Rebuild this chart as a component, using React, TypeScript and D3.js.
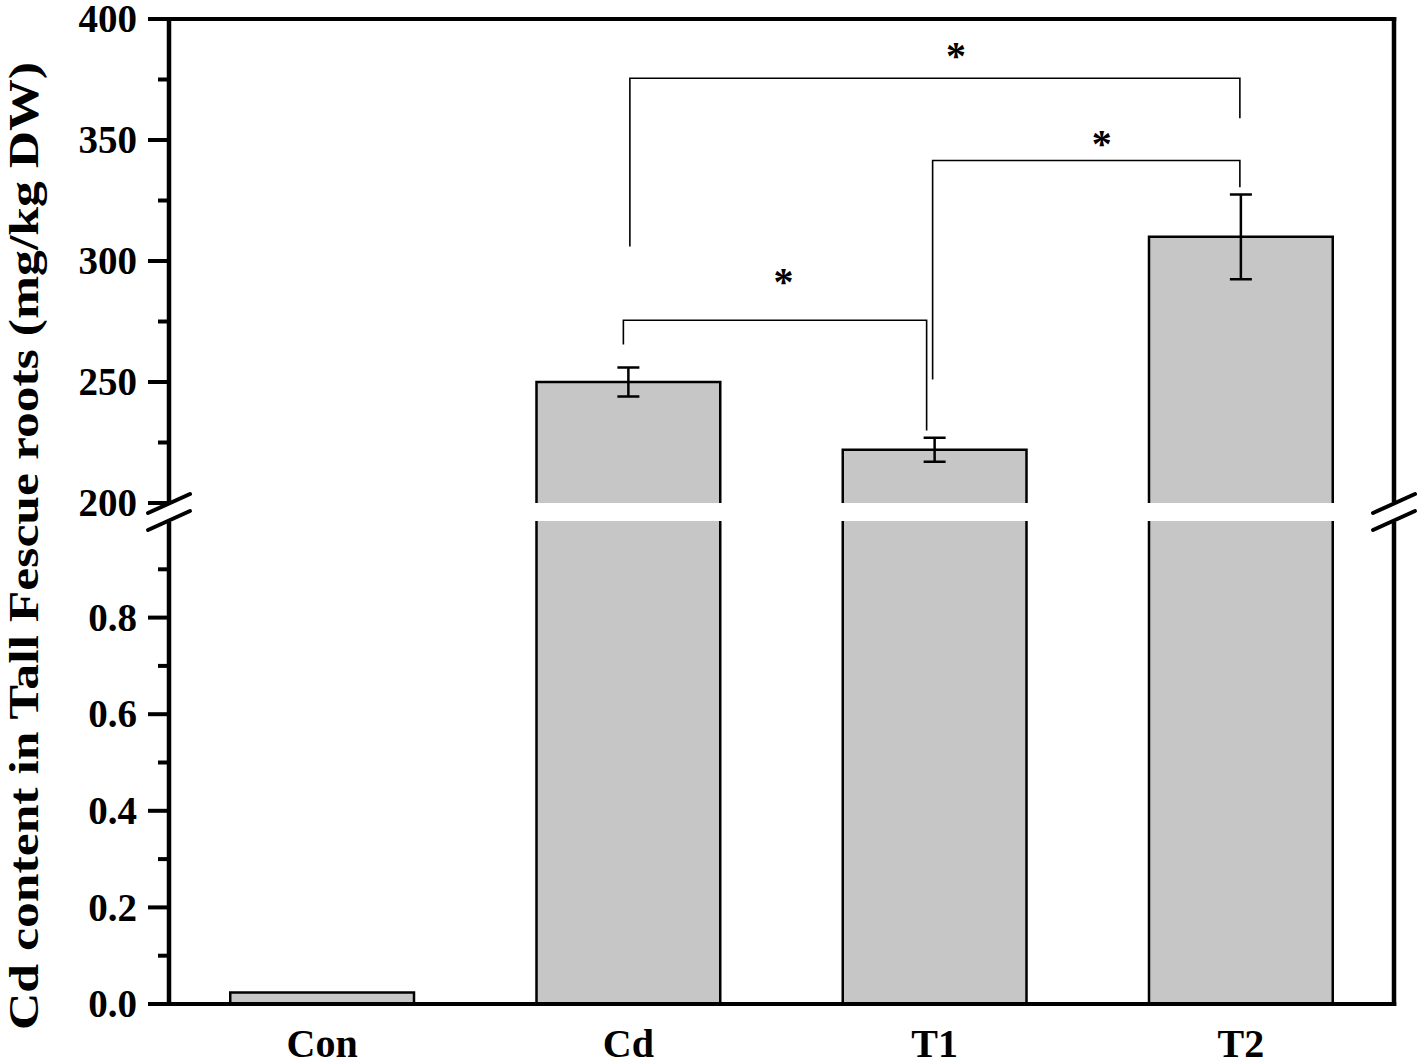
import React from "react";
import * as d3 from "d3";

// ---- data ----
const categories = ["Con", "Cd", "T1", "T2"];
const means = [0.024, 250, 222, 310];
const errs = [0, 6, 5, 17.5];

const lowerTicks = [0, 0.2, 0.4, 0.6, 0.8];
const lowerTickLabels = ["0.0", "0.2", "0.4", "0.6", "0.8"];
const lowerMinor = [0.1, 0.3, 0.5, 0.7, 0.9];
const upperTicks = [200, 250, 300, 350, 400];
const upperTickLabels = ["200", "250", "300", "350", "400"];
const upperMinor = [225, 275, 325, 375];

const bracketFrom = ["Cd", "T1", "Cd"];
const bracketTo = ["T2", "T2", "T1"];
const bracketLevel = [375.5, 341.5, 275.5];
const bracketLeftEnd = [306, 251, 265.5];
const bracketRightEnd = [359, 330.5, 230];
const bracketLabel = ["*", "*", "*"];

const yTitle = "Cd content in Tall Fescue roots (mg/kg DW)";

// ---- layout / style ----
const W = 1418, H = 1062;
const X0 = 169, X1 = 1394;
const FONT = "'Liberation Serif', 'Times New Roman', serif";
const bracketStyle = [
  { dl: 1.5, dr: -1, sx: 21, sy: 27 },
  { dl: -2, dr: -1, sx: 15.5, sy: 22 },
  { dl: -5, dr: -8, sx: 8.5, sy: 43 },
];

export default function App() {
  const x = d3.scaleBand<string>().domain(categories).range([X0, X1]).paddingInner(0.4).paddingOuter(0.2);
  const yLow = d3.scaleLinear().domain([0, 1]).range([1004, 521]);
  const yHigh = d3.scaleLinear().domain([200, 400]).range([503, 19]);
  const lowTop = yLow(1);
  const highBottom = yHigh(200);
  const bw = x.bandwidth();
  const cx = (c: string) => (x(c) as number) + bw / 2;
  const yv = (v: number) => (v > 1 ? yHigh(v) : yLow(v));

  const fs = 39;
  const axisW = 4.5;

  return (
    <svg width={W} height={H} style={{ position: "absolute", left: 0, top: 0, background: "#fff" }}>
      {/* bars */}
      {categories.map((c, i) => {
        const x0 = x(c) as number;
        const x1 = x0 + bw;
        const v = means[i];
        if (v <= 1) {
          const yt = yLow(v);
          return (
            <g key={c}>
              <rect x={x0} y={yt} width={bw} height={yLow(0) - yt} fill="#c6c6c6" />
              <path d={`M${x0},${yLow(0)}V${yt}H${x1}V${yLow(0)}`} fill="none" stroke="#000" strokeWidth={2.5} />
            </g>
          );
        }
        const yt = yHigh(v);
        return (
          <g key={c}>
            <rect x={x0} y={lowTop} width={bw} height={yLow(0) - lowTop} fill="#c6c6c6" />
            <path d={`M${x0},${yLow(0)}V${lowTop}M${x1},${yLow(0)}V${lowTop}`} fill="none" stroke="#000" strokeWidth={2.5} />
            <rect x={x0} y={yt} width={bw} height={highBottom - yt} fill="#c6c6c6" />
            <path d={`M${x0},${highBottom}V${yt}H${x1}V${highBottom}`} fill="none" stroke="#000" strokeWidth={2.5} />
          </g>
        );
      })}
      {/* error bars */}
      {categories.map((c, i) => {
        if (!errs[i]) return null;
        const xc = cx(c);
        const yt = yv(means[i] + errs[i]);
        const yb = yv(means[i] - errs[i]);
        return (
          <path key={"e" + c} d={`M${xc},${yt}V${yb}M${xc - 11},${yt}H${xc + 11}M${xc - 11},${yb}H${xc + 11}`}
            fill="none" stroke="#000" strokeWidth={2.5} />
        );
      })}
      {/* brackets */}
      {bracketFrom.map((f, i) => {
        const s = bracketStyle[i];
        const xl = cx(f) + s.dl;
        const xr = cx(bracketTo[i]) + s.dr;
        const yl = yHigh(bracketLevel[i]);
        return (
          <g key={"b" + i}>
            <path d={`M${xl},${yHigh(bracketLeftEnd[i])}V${yl}H${xr}V${yHigh(bracketRightEnd[i])}`}
              fill="none" stroke="#000" strokeWidth={1.6} />
            <text x={(xl + xr) / 2 + s.sx} y={yl - s.sy + 0.45 * 40} fontFamily={FONT} fontWeight="bold"
              fontSize={40} textAnchor="middle">{bracketLabel[i]}</text>
          </g>
        );
      })}
      {/* frame: top, left, right, bottom */}
      <line x1={X0 - 21} x2={X1 + axisW / 2} y1={yHigh(400)} y2={yHigh(400)} stroke="#000" strokeWidth={4} />
      <line x1={X0} x2={X0} y1={yHigh(400)} y2={highBottom - 1} stroke="#000" strokeWidth={axisW} />
      <line x1={X0} x2={X0} y1={lowTop + 1} y2={yLow(0)} stroke="#000" strokeWidth={axisW} />
      <line x1={X1} x2={X1} y1={yHigh(400) - 2} y2={highBottom - 1} stroke="#000" strokeWidth={axisW} />
      <line x1={X1} x2={X1} y1={lowTop + 1} y2={yLow(0) + 2} stroke="#000" strokeWidth={axisW} />
      <line x1={X0 - 21} x2={X1 + axisW / 2} y1={yLow(0)} y2={yLow(0)} stroke="#000" strokeWidth={4} />
      {/* break marks */}
      {[X0, X1].map((bx) => (
        <g key={"br" + bx}>
          <line x1={bx - 21} y1={513} x2={bx + 21} y2={494} stroke="#000" strokeWidth={4} strokeLinecap="round" />
          <line x1={bx - 21} y1={530} x2={bx + 21} y2={511} stroke="#000" strokeWidth={4} strokeLinecap="round" />
        </g>
      ))}
      {/* ticks */}
      {lowerTicks.map((t) => (
        <line key={"lt" + t} x1={X0 - 21} x2={X0} y1={yLow(t)} y2={yLow(t)} stroke="#000" strokeWidth={4} />
      ))}
      {lowerMinor.map((t) => (
        <line key={"lm" + t} x1={X0 - 11} x2={X0} y1={yLow(t)} y2={yLow(t)} stroke="#000" strokeWidth={4} />
      ))}
      {upperTicks.map((t) => (
        <line key={"ut" + t} x1={X0 - 21} x2={X0} y1={yHigh(t)} y2={yHigh(t)} stroke="#000" strokeWidth={4} />
      ))}
      {upperMinor.map((t) => (
        <line key={"um" + t} x1={X0 - 11} x2={X0} y1={yHigh(t)} y2={yHigh(t)} stroke="#000" strokeWidth={4} />
      ))}
      {/* tick labels */}
      {lowerTicks.map((t, i) => (
        <text key={"ll" + t} x={137} y={yLow(t) + 0.34 * fs} textAnchor="end" fontFamily={FONT}
          fontWeight="bold" fontSize={fs}>{lowerTickLabels[i]}</text>
      ))}
      {upperTicks.map((t, i) => (
        <text key={"ul" + t} x={137} y={yHigh(t) + 0.34 * fs} textAnchor="end" fontFamily={FONT}
          fontWeight="bold" fontSize={fs}>{upperTickLabels[i]}</text>
      ))}
      {/* x labels */}
      {categories.map((c) => (
        <text key={"xl" + c} x={cx(c)} y={1057} textAnchor="middle" fontFamily={FONT} fontWeight="bold"
          fontSize={40}>{c}</text>
      ))}
      {/* y title */}
      <text transform={`translate(38,546) rotate(-90)`} textAnchor="middle" fontFamily={FONT} fontWeight="bold"
        fontSize={43} textLength={968} lengthAdjust="spacingAndGlyphs">{yTitle}</text>
    </svg>
  );
}
